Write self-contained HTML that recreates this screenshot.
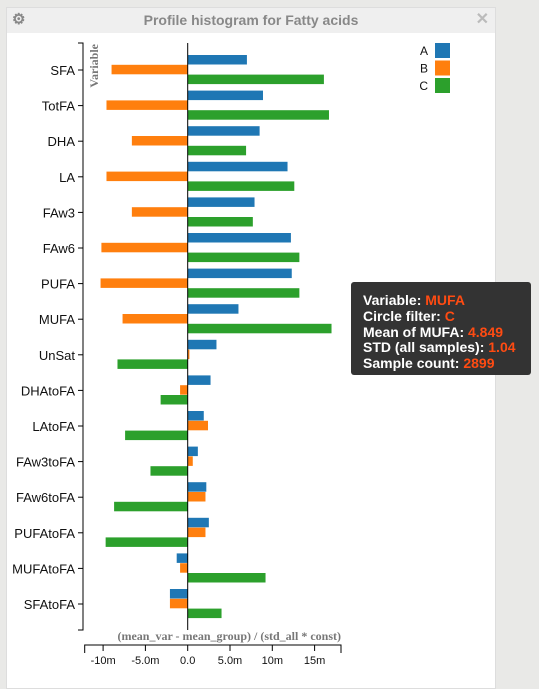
<!DOCTYPE html>
<html><head><meta charset="utf-8"><style>
body{margin:0;width:539px;height:678px;background:#e9e9e7;overflow:hidden;font-family:"Liberation Sans",Arial,sans-serif;position:relative}
#panel{position:absolute;left:6px;top:7px;width:488px;height:680px;background:#fff;border:1px solid #ddd}
#hdr{position:absolute;left:0;top:0;width:488px;height:25px;background:#efefef;text-align:center;font-weight:bold;color:#888;font-size:14px;line-height:24px}
#tip{position:absolute;left:351px;top:282px;width:180px;height:93px;background:#333;border-radius:3px;color:#fff;font-weight:bold;font-size:14px;line-height:15.8px;padding:11px 0 0 12px;box-sizing:border-box}
#tip span{color:#ff4b12}
</style></head><body>
<div id="panel">
<div id="hdr">Profile histogram for Fatty acids
<span style="position:absolute;left:5px;top:0;color:#888;font-size:15px">⚙</span>
<span style="position:absolute;right:6px;top:0;color:#bbb;font-size:16px">✕</span></div>
</div>
<svg id="chart" width="539" height="678" style="position:absolute;left:0;top:0"></svg>
<div id="tip">Variable: <span>MUFA</span><br>Circle filter: <span>C</span><br>Mean of MUFA: <span>4.849</span><br>STD (all samples): <span>1.04</span><br>Sample count: <span>2899</span></div>
<script>
const categories=["SFA","TotFA","DHA","LA","FAw3","FAw6","PUFA","MUFA","UnSat","DHAtoFA","LAtoFA","FAw3toFA","FAw6toFA","PUFAtoFA","MUFAtoFA","SFAtoFA"];
const seriesA=[7.0,8.9,8.5,11.8,7.9,12.2,12.3,6.0,3.4,2.7,1.9,1.2,2.2,2.5,-1.3,-2.1];
const seriesB=[-9.0,-9.6,-6.6,-9.6,-6.6,-10.2,-10.3,-7.7,0.2,-0.9,2.4,0.6,2.1,2.1,-0.9,-2.1];
const seriesC=[16.1,16.7,6.9,12.6,7.7,13.2,13.2,17.0,-8.3,-3.2,-7.4,-4.4,-8.7,-9.7,9.2,4.0];
const seriesNames=["A","B","C"];
const colors=["#1f77b4","#ff7f0e","#2ca02c"];
const xTicks=[-10,-5,0,5,10,15];
const xTickLabels=["-10m","-5.0m","0.0","5.0m","10m","15m"];
const svg=document.getElementById('chart');const NS="http://www.w3.org/2000/svg";
function x(v){return 187.7+v*8.46;}
function y(i){return 70+i*35.6;}
function mk(t,a,p){const e=document.createElementNS(NS,t);for(const k in a)e.setAttribute(k,a[k]);(p||svg).appendChild(e);return e;}
const all=[seriesA,seriesB,seriesC];
all.forEach((s,si)=>s.forEach((v,i)=>{
 const r=mk('rect',{x:Math.min(x(0),x(v)),y:y(i)-15+si*9.8,width:Math.abs(x(v)-x(0)),height:9.5,fill:colors[si]});
 
 
}));
mk('line',{x1:x(0),x2:x(0),y1:43,y2:630,stroke:'#000'});
mk('path',{d:'M78,43H83V630H78',fill:'none',stroke:'#000'});
categories.forEach((c,i)=>{
 mk('line',{x1:78,x2:83,y1:y(i),y2:y(i),stroke:'#000'});
 const t=mk('text',{x:75,y:y(i)+5,'text-anchor':'end','font-size':13,fill:'#111'});t.textContent=c;
 
 
});
const yt=mk('text',{transform:'translate(98,44) rotate(-90)','text-anchor':'end','font-size':12,'font-weight':'bold','font-family':'Liberation Serif,serif',fill:'#777'});yt.textContent='Variable';


mk('path',{d:'M84.7,653V645H341V653',fill:'none',stroke:'#000'});
xTicks.forEach((v,i)=>{
 mk('line',{x1:x(v),x2:x(v),y1:645,y2:651,stroke:'#000'});
 const t=mk('text',{x:x(v),y:664,'text-anchor':'middle','font-size':11,fill:'#111'});t.textContent=xTickLabels[i];
 
 
});
const xt=mk('text',{x:341,y:640,'text-anchor':'end','font-size':12,'font-weight':'bold','font-family':'Liberation Serif,serif',fill:'#777'});xt.textContent='(mean_var - mean_group) / (std_all * const)';


seriesNames.forEach((n,i)=>{
 const r=mk('rect',{x:435,y:43+i*17.5,width:15,height:15,fill:colors[i]});
 
 
 const t=mk('text',{x:428,y:55+i*17.5,'text-anchor':'end','font-size':12,fill:'#111'});t.textContent=n;
 
 
});
</script>
</body></html>
